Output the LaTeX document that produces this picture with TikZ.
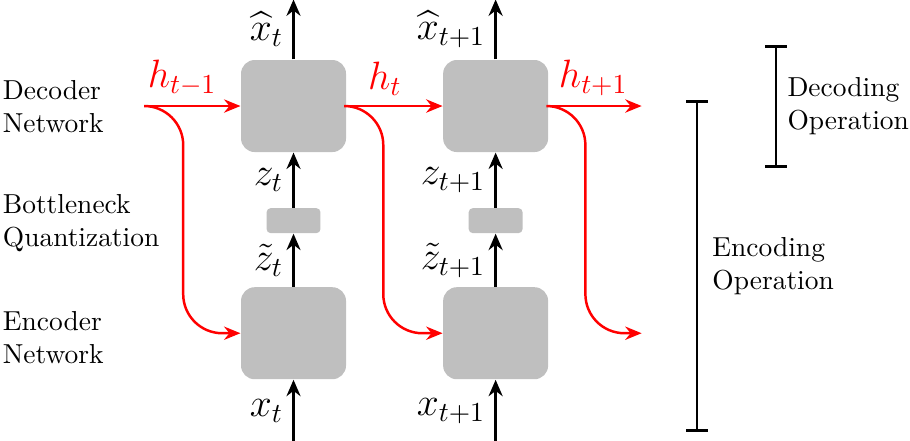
\documentclass[tikz,border=0pt]{standalone}
\usepackage{amsmath, amssymb}
\usepackage{tikz}
\usetikzlibrary{positioning,arrows.meta,calc}

\begin{document}
\begin{tikzpicture}[
    node distance=0.7cm,
    netbox/.style={rectangle, rounded corners=5pt, fill=gray!50,
        minimum width=1.344cm, minimum height=1.178cm},
    quantbox/.style={rectangle, rounded corners=1.5pt, fill=gray!50,
        minimum width=0.69cm, minimum height=0.32cm},
    flow/.style={-{Stealth[length=2.1mm, width=1.8mm]}, line width=0.9pt},
    recur/.style={-{Stealth[length=2.1mm, width=1.7mm]}, line width=0.9pt, red, rounded corners=0.5cm},
    sym/.style={font=\Large},
    side/.style={align=left, anchor=west, inner sep=0pt},
    span/.style={line width=1pt, {Bar[width=2.7mm]}-{Bar[width=2.7mm]}},
]
\useasboundingbox (0,0) rectangle (11.648,-5.632);

% network boxes
\node[netbox] (dec1) at (3.757,-1.357) {};
\node[netbox, right=1.229cm of dec1] (dec2) {};
\node[quantbox, below=0.704cm of dec1] (q1) {};
\node[quantbox, below=0.704cm of dec2] (q2) {};
\node[netbox, below=0.678cm of q1] (enc1) {};
\node[netbox, below=0.678cm of q2] (enc2) {};

\coordinate[above=0.768cm of dec1.north] (xhat1);
\coordinate[above=0.768cm of dec2.north] (xhat2);
\coordinate[below=0.806cm of enc1.south] (x1);
\coordinate[below=0.806cm of enc2.south] (x2);
\coordinate[left=1.203cm of dec1.west] (hin);
\coordinate[right=1.19cm of dec2.east] (hout);
\coordinate[right=1.19cm of enc2.east] (eout);

% side labels
\node[side] (declab) at (0.03,-1.36) {Decoder\\Network};
\node[side] (quantlab) at (0.03,-2.85) {Bottleneck\\Quantization};
\node[side] (enclab) at (0.03,-4.32) {Encoder\\Network};

% data flow
\draw[flow] (dec1) -- node[sym, left] {$\widehat{x}_t$} (xhat1);
\draw[flow] (q1) -- node[sym, left] {$z_t$} (dec1);
\draw[flow] (enc1) -- node[sym, left] {$\tilde{z}_t$} (q1);
\draw[flow] (x1) -- node[sym, left] {$x_t$} (enc1);
\draw[flow] (dec2) -- node[sym, left] {$\widehat{x}_{t+1}$} (xhat2);
\draw[flow] (q2) -- node[sym, left] {$z_{t+1}$} (dec2);
\draw[flow] (enc2) -- node[sym, left] {$\tilde{z}_{t+1}$} (q2);
\draw[flow] (x2) -- node[sym, left] {$x_{t+1}$} (enc2);

% recurrent state
\draw[recur] (hin) -- node[sym, pos=0.38, above] {$h_{t-1}$} (dec1);
\draw[recur] (hin) -| ($(hin |- enc1.west)+(0.47,0)$) -- (enc1.west);
\draw[recur] (dec1) -- node[sym, pos=0.4, above] {$h_t$} (dec2);
\draw[recur] (dec1.east) -| ($(dec1.east |- enc2.west)+(0.47,0)$) -- (enc2.west);
\draw[recur] (dec2) -- node[sym, pos=0.48, above] {$h_{t+1}$} (hout);
\draw[recur] (dec2.east) -| ($(dec2.east |- eout)+(0.47,0)$) -- (eout);

% operation spans
\coordinate (dectop) at (9.933,-0.576);
\coordinate (decbot) at (9.933,-2.150);
\coordinate (enctop) at (8.922,-1.28);
\coordinate (encbot) at (8.922,-5.53);
\draw[span] (dectop) -- (decbot);
\draw[span] (enctop) -- (encbot);
\node[side] (decop) at ($(dectop)!0.5!(decbot)+(0.14,0)$) {Decoding\\Operation};
\node[side] (encop) at ($(enctop)!0.5!(encbot)+(0.19,0)$) {Encoding\\Operation};
\end{tikzpicture}
\end{document}
